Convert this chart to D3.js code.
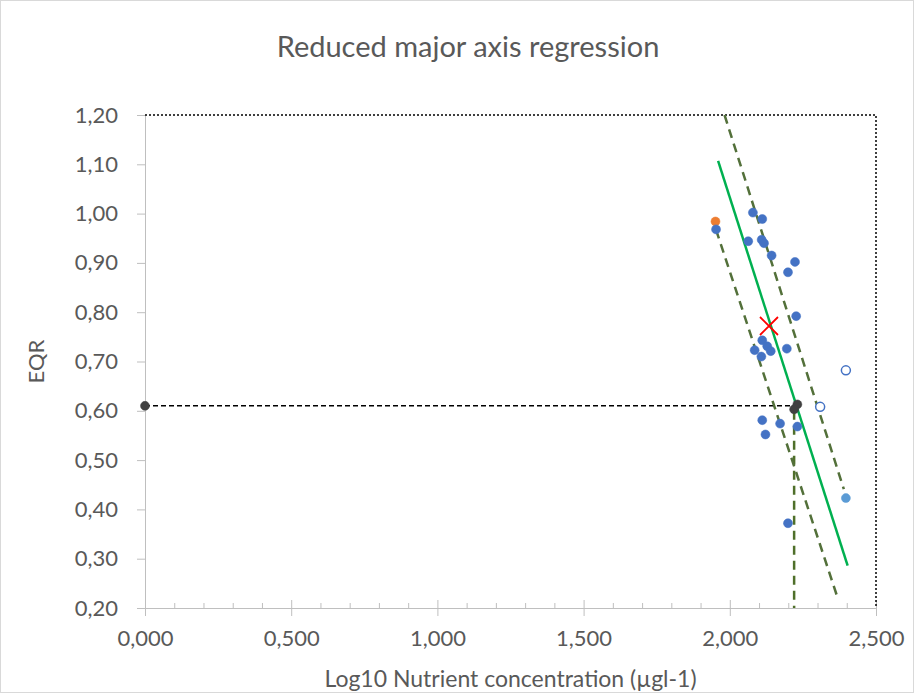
<!DOCTYPE html>
<html>
<head>
<meta charset="utf-8">
<script src="https://cdn.jsdelivr.net/npm/d3@7"></script>
<style>
  html, body { margin: 0; padding: 0; background: #ffffff; }
  svg text { font-family: Lato, "Open Sans", sans-serif; fill: #595959; }
</style>
</head>
<body>
<svg id="chart" width="914" height="693"></svg>
<script>
// ---------- data ----------
const chartTitle = "Reduced major axis regression";
const xAxisTitle = "Log10 Nutrient concentration (µgl-1)";
const yAxisTitle = "EQR";

const xTicks = [0, 0.5, 1.0, 1.5, 2.0, 2.5];
const xMinorTicks = [0.1,0.2,0.3,0.4,0.6,0.7,0.8,0.9,1.1,1.2,1.3,1.4,1.6,1.7,1.8,1.9,2.1,2.2,2.3,2.4];
const yTicks = [0.2, 0.3, 0.4, 0.5, 0.6, 0.7, 0.8, 0.9, 1.0, 1.1, 1.2];

// observed sites (blue)
const siteX = [1.953, 2.079, 2.111, 2.063, 2.109, 2.117, 2.143, 2.223, 2.199, 2.227,
               2.111, 2.085, 2.128, 2.140, 2.108, 2.195, 2.111, 2.172, 2.231, 2.122, 2.199];
const siteY = [0.968, 1.002, 0.989, 0.944, 0.947, 0.940, 0.915, 0.902, 0.881, 0.792,
               0.743, 0.723, 0.731, 0.721, 0.710, 0.726, 0.581, 0.574, 0.568, 0.552, 0.372];

// reference site (orange)
const refX = [1.951];
const refY = [0.984];

// excluded sites (open circles)
const excludedX = [2.397, 2.309];
const excludedY = [0.682, 0.608];

// outlier (light blue)
const outlierX = [2.397];
const outlierY = [0.423];

// boundary points (dark)
const boundaryX = [0, 2.231, 2.220];
const boundaryY = [0.61, 0.613, 0.603];

// mean (red cross)
const meanX = [2.134];
const meanY = [0.772];

// regression line and confidence bounds
const rmaX = [1.960, 2.403];
const rmaY = [1.107, 0.286];
const upperX = [1.982, 2.390];
const upperY = [1.200, 0.441];
const lowerX = [1.953, 2.368];
const lowerY = [0.967, 0.222];

// boundary guide lines
const hGuideX = [0, 2.23];
const hGuideY = [0.61, 0.61];
const vGuideX = [2.22, 2.22];
const vGuideY = [0.60, 0.20];

// frame lines (top and right)
const frameX = [0, 2.5, 2.5];
const frameY = [1.2, 1.2, 0.2];

// ---------- layout ----------
const svg = d3.select("#chart");
const W = 914, H = 693;
const plot = { left: 145, right: 876, top: 115, bottom: 608 };

const x = d3.scaleLinear().domain([0, 2.5]).range([plot.left, plot.right]);
const y = d3.scaleLinear().domain([0.2, 1.2]).range([plot.bottom, plot.top]);

const loc = d3.formatLocale({ decimal: ",", thousands: ".", grouping: [3], currency: ["", ""] });
const fx = loc.format(".3f");
const fy = loc.format(".2f");

const zip = (xs, ys) => xs.map((v, i) => [v, ys[i]]);
const line = d3.line().x(d => x(d[0])).y(d => y(d[1]));

svg.append("rect").attr("width", W).attr("height", H).attr("fill", "#fff");
svg.append("rect").attr("x", 0.5).attr("y", 0.5).attr("width", W - 1).attr("height", H - 1)
   .attr("fill", "none").attr("stroke", "#d9d9d9");

// title
svg.append("text").attr("x", 468).attr("y", 57).attr("text-anchor", "middle")
   .attr("font-size", 29).text(chartTitle);

// axes
const axisColor = "#bfbfbf";
const yAxis = svg.append("g").attr("transform", `translate(${plot.left},0)`)
  .call(d3.axisLeft(y).tickValues(yTicks).tickFormat(fy).tickSize(8).tickPadding(19));
yAxis.select(".domain").attr("stroke", axisColor);
yAxis.selectAll(".tick line").attr("stroke", axisColor);
yAxis.selectAll(".tick text").attr("font-size", 22).attr("fill", "#595959")
  .style("font-family", "Lato, sans-serif");

const xMinor = svg.append("g").attr("transform", `translate(0,${plot.bottom})`)
  .call(d3.axisBottom(x).tickValues(xMinorTicks).tickSize(-5).tickFormat(""));
xMinor.select(".domain").remove();
xMinor.selectAll(".tick line").attr("stroke", axisColor);

const xAxis = svg.append("g").attr("transform", `translate(0,${plot.bottom})`)
  .call(d3.axisBottom(x).tickValues(xTicks).tickFormat(fx).tickSize(8).tickPadding(14));
xAxis.select(".domain").attr("stroke", axisColor);
xAxis.selectAll(".tick line").attr("stroke", axisColor).attr("y1", -8);
xAxis.selectAll(".tick text").attr("font-size", 22).attr("fill", "#595959")
  .style("font-family", "Lato, sans-serif");

// axis titles
svg.append("text").attr("x", (plot.left + plot.right) / 2).attr("y", 687)
   .attr("text-anchor", "middle").attr("font-size", 23).text(xAxisTitle);
svg.append("text").attr("transform", `translate(44,${(plot.top + plot.bottom) / 2}) rotate(-90)`)
   .attr("text-anchor", "middle").attr("font-size", 22).text(yAxisTitle);

// frame dotted lines
svg.append("path").datum(zip(frameX, frameY)).attr("d", line)
   .attr("fill", "none").attr("stroke", "#000").attr("stroke-width", 1.5)
   .attr("stroke-dasharray", "2,2");

// guide lines
svg.append("path").datum(zip(hGuideX, hGuideY)).attr("d", line)
   .attr("fill", "none").attr("stroke", "#000").attr("stroke-width", 1.5)
   .attr("stroke-dasharray", "5,3");
svg.append("path").datum(zip(vGuideX, vGuideY)).attr("d", line)
   .attr("fill", "none").attr("stroke", "#4f6f2a").attr("stroke-width", 2.5)
   .attr("stroke-dasharray", "9,6");

// confidence bounds
[[upperX, upperY], [lowerX, lowerY]].forEach(([xs, ys]) => {
  svg.append("path").datum(zip(xs, ys)).attr("d", line)
     .attr("fill", "none").attr("stroke", "#53703a").attr("stroke-width", 2.5)
     .attr("stroke-dasharray", "9,6");
});

// regression line
svg.append("path").datum(zip(rmaX, rmaY)).attr("d", line)
   .attr("fill", "none").attr("stroke", "#00b050").attr("stroke-width", 2.5);

// points
function dots(xs, ys, fill, stroke, sw) {
  svg.append("g").selectAll("circle").data(zip(xs, ys)).join("circle")
    .attr("cx", d => x(d[0])).attr("cy", d => y(d[1])).attr("r", 4.5)
    .attr("fill", fill).attr("stroke", stroke).attr("stroke-width", sw);
}
dots(refX, refY, "#ed7d31", "#ed7d31", 0.5);
dots(siteX, siteY, "#4472c4", "#4472c4", 0.5);
dots(excludedX, excludedY, "#ffffff", "#4472c4", 1.5);
dots(outlierX, outlierY, "#5b9bd5", "#5b9bd5", 0.5);
dots(boundaryX, boundaryY, "#404040", "#404040", 0.5);

// mean marker (X)
const xs = 9;
svg.append("g").selectAll("path").data(zip(meanX, meanY)).join("path")
  .attr("d", d => {
    const cx = x(d[0]), cy = y(d[1]);
    return `M${cx - xs},${cy - xs}L${cx + xs},${cy + xs}M${cx - xs},${cy + xs}L${cx + xs},${cy - xs}`;
  })
  .attr("stroke", "#ff0000").attr("stroke-width", 1.8).attr("fill", "none");
</script>
</body>
</html>
